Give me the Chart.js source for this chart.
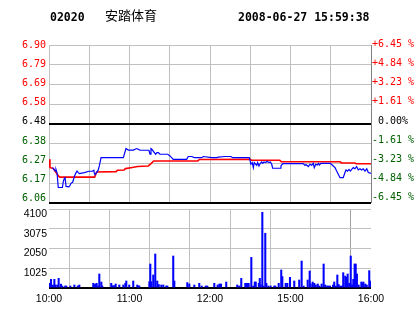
<!DOCTYPE html>
<html><head><meta charset="utf-8">
<script src="https://cdn.jsdelivr.net/npm/chart.js@4.4.0/dist/chart.umd.min.js"></script>
<style>
html,body{margin:0;padding:0;background:#fff;width:414px;height:314px;overflow:hidden;}
#wrap{position:relative;width:414px;height:314px;background:#fff;}
canvas{position:absolute;left:0;top:0;}
.t{position:absolute;white-space:pre;color:#000;}
.mono{font-family:"DejaVu Sans Mono",monospace;font-weight:bold;font-size:11.5px;line-height:12px;}
.cjk{font-family:"Noto Sans CJK SC",sans-serif;font-size:13px;line-height:14px;}
</style></head><body>
<div id="wrap">
<canvas id="vol" width="414" height="314"></canvas>
<canvas id="price" width="414" height="214"></canvas>
<div class="t mono" id="code" style="left:50px;top:11px"></div>
<div class="t cjk" id="name" style="left:105px;top:8px"></div>
<div class="t mono" id="stamp" style="left:238px;top:11px"></div>
</div>
<script>
// ---- header text ----
const stockCode = '02020';
const stockName = '安踏体育';
const timeStamp = '2008-06-27 15:59:38';

// ---- axis ticks ----
const prevClose = 6.48;
const pctTicks = [6.45, 4.84, 3.23, 1.61, 0, -1.61, -3.23, -4.84, -6.45];
const leftTickLabels = ['6.90','6.79','6.69','6.58','6.48','6.38','6.27','6.17','6.06'];
const rightTickLabels = ['+6.45 %','+4.84 %','+3.23 %','+1.61 %',' 0.00%','-1.61 %','-3.23 %','-4.84 %','-6.45 %'];
const volTicks = [0, 1025, 2050, 3075, 4100];
const volTickLabels = ['', '1025', '2050', '3075', '4100'];
const gridMinutes = [0, 30, 60, 90, 120, 150, 180, 210, 240];
const timeTickMinutes = [0, 60, 120, 180, 240];
const timeTickLabels = ['10:00', '11:00', '12:00', '15:00', '16:00'];

// ---- price (minutes after 10:00 in trading time) ----
const priceMinutes = [2.5,3.7,4.5,5.2,6.0,6.9,10.0,10.7,11.4,11.9,12.7,14.9,15.7,16.4,17.7,18.9,19.9,20.9,21.8,22.6,26.3,29.8,32.3,33.4,33.8,34.3,35.5,36.7,37.5,38.8,55.4,57.4,59.1,62.8,65.4,67.8,74.5,75.3,76.0,76.8,78.5,79.5,80.5,81.5,82.7,88.5,90.2,92.6,102.6,103.8,106.4,108.3,113.8,115.0,121.3,125.0,126.2,131.2,135.6,136.9,149.3,150.5,151.5,152.3,153.0,154.8,155.5,156.5,157.5,158.5,159.3,160.2,161.5,162.4,163.9,165.0,166.0,166.7,172.2,172.9,174.2,189.5,190.8,191.5,193.3,194.5,195.8,197.0,197.7,198.8,200.0,200.8,201.5,202.7,209.4,210.5,211.9,213.2,214.4,215.6,216.9,219.3,220.6,221.4,222.5,223.6,224.6,225.6,226.8,228.0,229.3,230.5,231.8,233.0,234.2,235.5,236.8,238.0,240.0];
const priceValues = [6.249,6.240,6.232,6.240,6.222,6.144,6.144,6.178,6.191,6.200,6.150,6.147,6.156,6.166,6.173,6.202,6.219,6.231,6.223,6.218,6.223,6.230,6.230,6.235,6.219,6.212,6.223,6.237,6.258,6.302,6.302,6.350,6.342,6.342,6.350,6.342,6.341,6.320,6.350,6.345,6.329,6.320,6.329,6.329,6.320,6.320,6.311,6.293,6.293,6.308,6.308,6.302,6.302,6.308,6.302,6.302,6.305,6.308,6.308,6.302,6.302,6.267,6.276,6.249,6.276,6.261,6.276,6.258,6.272,6.279,6.272,6.279,6.276,6.283,6.276,6.279,6.267,6.246,6.246,6.258,6.270,6.270,6.261,6.266,6.255,6.267,6.262,6.272,6.249,6.267,6.263,6.272,6.263,6.272,6.272,6.267,6.258,6.249,6.231,6.214,6.196,6.196,6.223,6.237,6.231,6.240,6.231,6.240,6.249,6.243,6.255,6.237,6.243,6.237,6.243,6.231,6.243,6.223,6.219];

// ---- average price ----
const avgMinutes = [0,0.7,3,4.5,7,8,34,35.5,50,51,56,57,62,66,74,76,78,111,112,150,151,172,173,217,218,228,229,240];
const avgValues = [6.293,6.249,6.246,6.231,6.205,6.199,6.199,6.226,6.228,6.235,6.237,6.244,6.250,6.255,6.258,6.270,6.284,6.285,6.292,6.293,6.288,6.288,6.281,6.280,6.274,6.274,6.270,6.270];

// ---- volume ----
const volMinutes = [0.75,1.5,2.8,4,4.7,6.2,7.2,8.9,9.9,12.1,12.9,15.9,18.9,21.4,22.6,33,33.8,34.8,35.5,36.7,37.5,39,39.7,46.4,47.7,48.7,49.7,52.4,55.4,56.9,57.6,59.8,62.8,65.8,66.6,67.3,74.8,75.5,76.2,77.7,79.2,80.7,81.8,83.7,85.2,87.4,88.2,92.6,93.4,103.1,104.6,108.3,112,113.8,116.8,118,123.2,125.7,127,128.2,132.1,140.3,141.8,143.3,146.3,147.6,148.8,150.8,152.3,153.4,154.1,156.4,157.1,157.8,159,159.8,161.2,162,163.5,165.2,167.9,168.7,171.2,173.1,173.9,176.4,177.6,179.6,182.8,186.5,188.3,189.8,192.8,194.3,195,196.5,197.7,198.8,200.3,201.5,203.2,204.7,205.9,207.4,208.2,209.4,211.7,212.6,213.7,214.9,215.9,217.1,218.4,219.3,220.8,221.6,222.6,223.8,224.9,225.8,226.8,227.8,228.6,229.5,230.8,232.8,233.5,234.3,235.7,236.8,238.7,239.7];
const volValues = [244,450,156,450,156,156,500,200,104,104,104,104,156,104,156,244,180,208,244,104,727,311,104,244,120,120,208,156,156,244,363,156,363,156,104,104,328,1245,328,675,1765,363,180,156,156,104,104,1660,363,280,208,156,244,104,104,104,244,156,208,208,311,156,104,500,244,244,244,1590,104,311,311,244,500,156,3930,104,2840,244,104,104,104,104,244,935,590,244,244,555,363,415,1400,104,415,880,208,311,244,156,208,104,208,1245,156,104,104,104,156,311,104,675,180,104,104,795,620,555,727,244,1660,156,450,1245,1245,727,156,311,244,311,208,156,900,363];

document.getElementById('code').textContent = stockCode;
document.getElementById('name').textContent = stockName;
document.getElementById('stamp').textContent = timeStamp;

const priceGrid = pctTicks.map(p => prevClose * (1 + p / 100));
const priceMin = prevClose * (1 - 6.45 / 100);
const priceMax = prevClose * (1 + 6.45 / 100);
const labelColor = i => i < 4 ? '#ff0000' : (i === 4 ? '#000000' : '#006000');
const monoFont = {family: 'DejaVu Sans Mono', size: 10};
const isStrong = i => pctTicks[i] === 0 || pctTicks[i] === -6.45;

new Chart(document.getElementById('price'), {
  type: 'line',
  data: {datasets: [
    {data: priceMinutes.map((m, i) => ({x: m, y: priceValues[i]})), borderColor: '#0000ff', borderWidth: 1.2, pointRadius: 0, tension: 0, yAxisID: 'y'},
    {data: avgMinutes.map((m, i) => ({x: m, y: avgValues[i]})), borderColor: '#ff0000', borderWidth: 1.6, pointRadius: 0, tension: 0, yAxisID: 'y'}
  ]},
  options: {
    responsive: false, animation: false, devicePixelRatio: 1,
    layout: {padding: {top: 45, bottom: 11, left: 0, right: 0}},
    plugins: {legend: {display: false}, tooltip: {enabled: false}},
    scales: {
      x: {type: 'linear', min: 0, max: 240,
        afterBuildTicks: s => { s.ticks = gridMinutes.map(v => ({value: v})); },
        afterFit: s => { s.height = 0; },
        ticks: {display: false}, border: {display: false},
        grid: {drawTicks: false, lineWidth: 1, color: c => (c.tick && c.tick.value === 240) ? '#808080' : '#c0c0c0'}},
      y: {type: 'linear', position: 'left', weight: 0, min: priceMin, max: priceMax,
        afterBuildTicks: s => { s.ticks = priceGrid.map(v => ({value: v})); },
        afterFit: s => { s.width = 0; },
        ticks: {display: false}, border: {display: false},
        grid: {drawTicks: false, color: c => isStrong(c.index) ? '#000000' : '#c0c0c0', lineWidth: c => isStrong(c.index) ? 2 : 1}},
      yl: {type: 'linear', position: 'left', weight: 1, reverse: true, min: -0.03, max: 8.25,
        afterBuildTicks: s => { s.ticks = leftTickLabels.map((_, i) => ({value: i})); },
        afterFit: s => { s.width = 49; },
        grid: {display: false, drawTicks: false}, border: {display: false},
        ticks: {autoSkip: false, padding: 3, font: monoFont, color: c => labelColor(c.index), callback: (v, i) => leftTickLabels[i]}},
      yr: {type: 'linear', position: 'right', weight: 1, reverse: true, min: 0.02, max: 8.3,
        afterBuildTicks: s => { s.ticks = rightTickLabels.map((_, i) => ({value: i})); },
        afterFit: s => { s.width = 43; },
        grid: {display: false, drawTicks: false}, border: {display: false},
        ticks: {autoSkip: false, padding: 1, font: monoFont, color: c => labelColor(c.index), callback: (v, i) => rightTickLabels[i]}}
    }
  }
});

const sansFont = {family: 'Liberation Sans', size: 10.5};
new Chart(document.getElementById('vol'), {
  type: 'bar',
  data: {datasets: [{data: volMinutes.map((m, i) => ({x: m, y: volValues[i]})), backgroundColor: '#0000ff', borderWidth: 0, barThickness: 1.4, grouped: false}]},
  options: {
    responsive: false, animation: false, devicePixelRatio: 1,
    layout: {padding: {top: 209, bottom: 0, left: 0, right: 43}},
    plugins: {legend: {display: false}, tooltip: {enabled: false}},
    scales: {
      x: {type: 'linear', min: 0, max: 240, offset: false,
        afterBuildTicks: s => { s.ticks = gridMinutes.map(v => ({value: v})); },
        afterFit: s => { s.height = 26; },
        border: {display: false},
        grid: {drawTicks: false, lineWidth: 1, color: c => (c.tick && c.tick.value === 240) ? '#a0a0a0' : '#c0c0c0'},
        ticks: {autoSkip: false, maxRotation: 0, padding: 5, font: sansFont, color: '#000',
          callback: v => { const k = timeTickMinutes.indexOf(v); return k >= 0 ? timeTickLabels[k] : ''; }}},
      y: {type: 'linear', min: 0, max: 4100,
        afterBuildTicks: s => { s.ticks = volTicks.map(v => ({value: v})); },
        afterFit: s => { s.width = 49; },
        border: {display: false},
        grid: {drawTicks: false, color: c => (c.tick && c.tick.value === 0) ? '#000000' : '#c0c0c0', lineWidth: c => (c.tick && c.tick.value === 0) ? 2 : 1},
        ticks: {autoSkip: false, padding: 2, labelOffset: 5, font: sansFont, color: '#000',
          callback: v => volTickLabels[volTicks.indexOf(v)]}}
    }
  }
});
</script>
</body></html>
